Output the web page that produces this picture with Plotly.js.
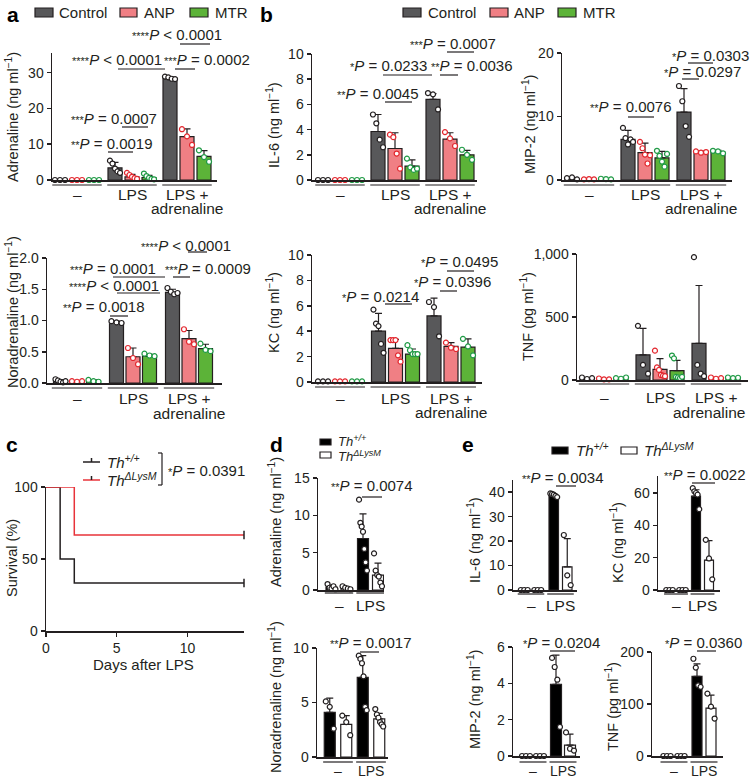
<!DOCTYPE html>
<html><head><meta charset="utf-8">
<script src="https://cdn.plot.ly/plotly-3.0.1.min.js"></script>
<style>body{margin:0;background:#fff}#chart{width:750px;height:780px}</style>
</head><body><div id="chart"></div>
<script>
// ================= DATA =================
const groups3 = ["–", "LPS", "LPS +<br>adrenaline"];
const groups2 = ["–", "LPS"];
const series3 = ["Control", "ANP", "MTR"];
const series2 = ["<i>Th</i><sup><i>+/+</i></sup>", "<i>Th</i><sup><i>ΔLysM</i></sup>"];

// a (top) Adrenaline, ng/ml
const a_adr_ctrl_mean = [0, 3.4, 28.5];
const a_adr_ctrl_sd   = [null, 1.5, 0.4];
const a_adr_ctrl_pts  = [[0, 0, 0], [5.4, 4.6, 3.2, 2.4, 2.0], [28.9, 28.7, 28.3, 28.2]];
const a_adr_anp_mean  = [0, 0.9, 12.1];
const a_adr_anp_sd    = [null, 0.7, 2.2];
const a_adr_anp_pts   = [[0, 0, 0], [2.0, 1.4, 0.9, 0.5, 0.3], [14.2, 12.2, 9.8]];
const a_adr_mtr_mean  = [0, 0.7, 6.6];
const a_adr_mtr_sd    = [null, 0.6, 1.6];
const a_adr_mtr_pts   = [[0, 0, 0], [1.8, 1.1, 0.6, 0.3, 0.2], [8.3, 6.4, 5.1]];
const a_adr_p = ["****P < 0.0001", "****P < 0.0001", "***P = 0.0002", "***P = 0.0007", "**P = 0.0019"];

// a (bottom) Noradrenaline, ng/ml
const a_nor_ctrl_mean = [0.03, 0.97, 1.45];
const a_nor_ctrl_sd   = [0.02, 0.02, 0.05];
const a_nor_ctrl_pts  = [[0.06, 0.04, 0.02, 0.01, 0.03], [0.99, 0.97, 0.96], [1.52, 1.46, 1.42, 1.44]];
const a_nor_anp_mean  = [0.02, 0.42, 0.71];
const a_nor_anp_sd    = [0.01, 0.14, 0.13];
const a_nor_anp_pts   = [[0.03, 0.02, 0.03], [0.56, 0.40, 0.30], [0.86, 0.66, 0.62]];
const a_nor_mtr_mean  = [0.03, 0.43, 0.55];
const a_nor_mtr_sd    = [0.02, 0.03, 0.07];
const a_nor_mtr_pts   = [[0.05, 0.03, 0.02], [0.47, 0.44, 0.43], [0.63, 0.53, 0.51]];
const a_nor_p = ["****P < 0.0001", "***P = 0.0001", "***P = 0.0009", "****P < 0.0001", "**P = 0.0018"];

// b IL-6, ng/ml
const b_il6_ctrl_mean = [0, 3.85, 6.4];
const b_il6_ctrl_sd   = [null, 1.35, 0.45];
const b_il6_ctrl_pts  = [[0, 0, 0], [5.2, 4.5, 3.2, 2.6], [6.9, 6.8, 5.6]];
const b_il6_anp_mean  = [0, 2.5, 3.25];
const b_il6_anp_sd    = [null, 1.25, 0.5];
const b_il6_anp_pts   = [[0, 0, 0], [3.6, 3.4, 2.1, 0.9], [3.8, 3.3, 2.7]];
const b_il6_mtr_mean  = [0, 1.1, 2.0];
const b_il6_mtr_sd    = [null, 0.5, 0.35];
const b_il6_mtr_pts   = [[0, 0, 0], [1.7, 1.0, 0.8, 0.9], [2.4, 2.0, 1.6]];
const b_il6_p = ["***P = 0.0007", "*P = 0.0233", "**P = 0.0036", "**P = 0.0045"];

// b MIP-2, ng/ml
const b_mip_ctrl_mean = [0.15, 6.4, 10.7];
const b_mip_ctrl_sd   = [0.1, 1.4, 3.7];
const b_mip_ctrl_pts  = [[0.3, 0.4, 0.1], [8.2, 6.6, 5.6, 6.4, 6.0], [14.8, 12.4, 8.5, 6.8]];
const b_mip_anp_mean  = [0.1, 4.3, 4.4];
const b_mip_anp_sd    = [0.05, 1.5, 0.15];
const b_mip_anp_pts   = [[0.1, 0.15, 0.1], [6.0, 5.0, 4.0, 2.6, 3.9], [4.5, 4.3, 4.4]];
const b_mip_mtr_mean  = [0.1, 3.5, 4.4];
const b_mip_mtr_sd    = [0.05, 1.0, 0.25];
const b_mip_mtr_pts   = [[0.2, 0.15, 0.1], [4.6, 3.8, 2.9, 2.1, 4.1], [4.6, 4.5, 4.2]];
const b_mip_p = ["*P = 0.0303", "*P = 0.0297", "**P = 0.0076"];

// b KC, ng/ml
const b_kc_ctrl_mean = [0.05, 4.0, 5.2];
const b_kc_ctrl_sd   = [null, 1.4, 1.4];
const b_kc_ctrl_pts  = [[0.05, 0.05, 0.05], [5.7, 4.6, 4.4, 3.0, 2.3], [6.3, 5.9, 3.6]];
const b_kc_anp_mean  = [0.05, 2.65, 2.8];
const b_kc_anp_sd    = [null, 0.7, 0.3];
const b_kc_anp_pts   = [[0.05, 0.05, 0.05], [3.3, 3.3, 3.3, 2.1, 1.6], [3.1, 2.7, 2.6]];
const b_kc_mtr_mean  = [0.05, 2.2, 2.75];
const b_kc_mtr_sd    = [null, 0.4, 0.65];
const b_kc_mtr_pts   = [[0.05, 0.05, 0.05], [2.9, 2.5, 2.2, 2.2, 2.2], [3.4, 2.8, 2.1]];
const b_kc_p = ["*P = 0.0495", "*P = 0.0396", "*P = 0.0214"];

// b TNF, pg/ml
const b_tnf_ctrl_mean = [15, 200, 290];
const b_tnf_ctrl_sd   = [null, 210, 460];
const b_tnf_ctrl_pts  = [[20, 8, 15], [430, 120, 50], [975, 120, 50, 30]];
const b_tnf_anp_mean  = [8, 85, 15];
const b_tnf_anp_sd    = [null, 85, null];
const b_tnf_anp_pts   = [[12, 5, 5], [233, 100, 80, 40, 35, 30], [20, 10, 15]];
const b_tnf_mtr_mean  = [12, 75, 15];
const b_tnf_mtr_sd    = [null, 80, null];
const b_tnf_mtr_pts   = [[15, 10, 20], [194, 172, 25, 20, 15, 25], [20, 15, 18]];

// c survival
const c_wt_days  = [0, 1, 2, 14];
const c_wt_surv  = [100, 50, 33.3, 33.3];
const c_ko_days  = [0, 2, 14];
const c_ko_surv  = [100, 66.7, 66.7];
const c_p = "*P = 0.0391";

// d Adrenaline / Noradrenaline
const d_adr_wt_mean = [0.4, 6.9];
const d_adr_wt_sd   = [0.25, 3.3];
const d_adr_wt_pts  = [[0.8, 0.3, 0.2, 0.5, 0.1], [12.1, 9.0, 8.5, 7.8, 5.5, 3.7, 2.6]];
const d_adr_ko_mean = [0.3, 2.0];
const d_adr_ko_sd   = [0.15, 1.6];
const d_adr_ko_pts  = [[0.5, 0.3, 0.2, 0.1], [4.9, 2.6, 2.0, 1.8, 1.0, 0.5]];
const d_adr_p = "**P = 0.0074";
const d_nor_wt_mean = [4.1, 7.3];
const d_nor_wt_sd   = [1.3, 2.0];
const d_nor_wt_pts  = [[5.1, 4.6, 2.6], [9.3, 9.0, 8.6, 7.4, 4.6, 4.3]];
const d_nor_ko_mean = [3.0, 3.5];
const d_nor_ko_sd   = [0.8, 0.5];
const d_nor_ko_pts  = [[3.8, 3.2, 2.0], [4.4, 3.9, 3.6, 3.2, 3.0, 2.8]];
const d_nor_p = "**P = 0.0017";

// e cytokines
const e_il6_wt_mean = [0, 38.5];
const e_il6_wt_sd   = [null, 0.8];
const e_il6_wt_pts  = [[0, 0, 0], [39.5, 39.3, 39.0, 38.5, 38.0]];
const e_il6_ko_mean = [0, 9.5];
const e_il6_ko_sd   = [null, 11.5];
const e_il6_ko_pts  = [[0, 0, 0], [22.5, 6.0, 2.0]];
const e_il6_p = "**P = 0.0034";
const e_kc_wt_mean = [0, 58];
const e_kc_wt_sd   = [null, 4];
const e_kc_wt_pts  = [[0, 0, 0], [63, 61, 60, 59, 50]];
const e_kc_ko_mean = [0, 18.5];
const e_kc_ko_sd   = [null, 12];
const e_kc_ko_pts  = [[0, 0, 0], [31, 19.5, 6.6]];
const e_kc_p = "**P = 0.0022";
const e_mip_wt_mean = [0, 3.95];
const e_mip_wt_sd   = [null, 1.6];
const e_mip_wt_pts  = [[0, 0, 0], [5.4, 4.9, 4.2, 1.6]];
const e_mip_ko_mean = [0, 0.6];
const e_mip_ko_sd   = [null, 0.6];
const e_mip_ko_pts  = [[0, 0, 0], [1.3, 0.4, 0.3]];
const e_mip_p = "*P = 0.0204";
const e_tnf_wt_mean = [0, 153];
const e_tnf_wt_sd   = [null, 24];
const e_tnf_wt_pts  = [[0, 0, 0], [187, 170, 136, 133]];
const e_tnf_ko_mean = [0, 92];
const e_tnf_ko_sd   = [null, 25];
const e_tnf_ko_pts  = [[0, 0, 0], [120, 95, 72]];
const e_tnf_p = "*P = 0.0360";

// ================= DRAWING =================
const W = 750, H = 780;
const FX = x => x / W, FY = y => 1 - y / H;
const FONT = "Liberation Sans, Arial, Helvetica, sans-serif";
const INK = "#231f20";
const RED = "#e8333a";
const TICK_SZ = 14, ANN_SZ = 15, TITLE_SZ = 14.5;
const traces = [], shapes = [], annotations = [];
const layout = {
  width: W, height: H, margin: {l: 0, r: 0, t: 0, b: 0},
  paper_bgcolor: "#fff", plot_bgcolor: "rgba(0,0,0,0)",
  showlegend: false, barmode: "overlay",
  font: {family: FONT, color: INK, size: TICK_SZ},
  shapes, annotations
};

const STYLE3 = [
  {fill: "#58585a", dot: INK},
  {fill: "#f07f84", dot: "#e3262d"},
  {fill: "#5cb338", dot: "#1f9a45"}
];
const STYLE2 = [
  {fill: "#000000", dot: INK},
  {fill: "#ffffff", dot: INK}
];

function txt(text, x, y, opts) {
  annotations.push(Object.assign({
    text, x: FX(x), y: FY(y), xref: "paper", yref: "paper",
    showarrow: false, xanchor: "center", yanchor: "middle",
    font: {family: FONT, size: ANN_SZ, color: INK}
  }, opts || {}));
}
function line(x0, y0, x1, y1, color, w) {
  shapes.push({type: "line", xref: "paper", yref: "paper",
    x0: FX(x0), y0: FY(y0), x1: FX(x1), y1: FY(y1),
    line: {color: color || INK, width: w || 1.2}});
}
function pHTML(s) {
  const m = s.match(/^(\*+)P (.*)$/);
  return `<span style="font-size:11px">${m[1]}</span><i>P</i> ${m[2]}`;
}
function addSigs(texts, pos) {
  texts.forEach((t, i) => {
    const [cx, cy, l0, l1, ly] = pos[i];
    txt(pHTML(t), cx, cy);
    line(l0, ly, l1, ly);
  });
}
function yTitle(text, x, y) {
  txt(text, x, y, {textangle: -90, font: {family: FONT, size: TITLE_SZ, color: INK}});
}

function addBarPanel(n, g, groups, ser, styles) {
  const xa = "x" + n, ya = "y" + n;
  const toU = p => p / g.s;
  layout["xaxis" + n] = {
    domain: [FX(g.x0), FX(g.x1)], range: [toU(g.x0 - g.c0), toU(g.x1 - g.c0)],
    anchor: ya, showline: true, linecolor: INK, linewidth: 1.5,
    showticklabels: false, ticks: "", showgrid: false, zeroline: false, fixedrange: true
  };
  layout["yaxis" + n] = {
    domain: [FY(g.yZero), FY(g.yTop)], range: [0, g.yMax],
    anchor: xa, showline: true, linecolor: INK, linewidth: 1.5,
    ticks: "outside", ticklen: 4, tickwidth: 1.5, tickcolor: INK,
    tickvals: g.tickvals, ticktext: g.ticktext || g.tickvals.map(String),
    tickfont: {family: FONT, size: TICK_SZ, color: INK},
    showgrid: false, zeroline: false, fixedrange: true
  };
  const bw = toU(g.bw), step = toU(g.off);
  ser.forEach((s, k) => {
    const off = (k - (ser.length - 1) / 2) * step;
    const st = styles[k];
    traces.push({
      type: "bar", xaxis: xa, yaxis: ya,
      x: s.mean.map((_, i) => i + off), y: s.mean, width: bw,
      marker: {color: st.fill, line: {color: INK, width: 1.2}},
      error_y: {type: "data", symmetric: false, array: s.sd,
        arrayminus: s.sd.map(() => 0), color: INK, thickness: 1.2, width: 3.5},
      hoverinfo: "skip"
    });
    const dx = [], dy = [];
    s.pts.forEach((arr, i) => {
      const m = arr.length;
      arr.forEach((v, j) => {
        dx.push(i + off + (m > 1 ? (j / (m - 1) - 0.5) * bw * 0.72 : 0));
        dy.push(v);
      });
    });
    traces.push({
      type: "scatter", mode: "markers", xaxis: xa, yaxis: ya, x: dx, y: dy,
      marker: {size: 5, color: "#fff", line: {color: st.dot, width: 1.2}},
      cliponaxis: false, hoverinfo: "skip"
    });
  });
  groups.forEach((gl, i) => {
    shapes.push({type: "line", xref: xa, yref: "paper",
      x0: i - 0.45, x1: i + 0.45, y0: FY(g.ulY), y1: FY(g.ulY),
      line: {color: INK, width: 1.2}});
    const parts = gl.split("<br>");
    parts.forEach((p, j) => {
      const ann = {text: p, xref: xa, yref: "paper", x: i,
        y: FY(j === 0 ? g.labY : g.labY2), showarrow: false,
        xanchor: "center", yanchor: "middle",
        font: {family: FONT, size: g.labSz || 15.5, color: INK}};
      if (j > 0 && g.lab2Right) {
        ann.xref = "paper"; ann.x = FX(g.lab2Right); ann.xanchor = "right";
      }
      annotations.push(ann);
    });
  });
}

const S = (mean, sd, pts) => ({mean, sd, pts});

// ---- a ----
addBarPanel(1, {x0: 52, x1: 217, c0: 77, s: 55, off: 17, bw: 14, yZero: 180, yTop: 53, yMax: 35.5,
  tickvals: [0, 10, 20, 30], labY: 194, labY2: 209, ulY: 185}, groups3,
  [S(a_adr_ctrl_mean, a_adr_ctrl_sd, a_adr_ctrl_pts), S(a_adr_anp_mean, a_adr_anp_sd, a_adr_anp_pts),
   S(a_adr_mtr_mean, a_adr_mtr_sd, a_adr_mtr_pts)], STYLE3);
addSigs(a_adr_p, [[177, 35, 180, 210, 44], [117, 60, 118, 165, 69], [207, 60, 175, 195, 69],
  [114, 118, 122, 148, 127], [112, 143, 108, 133, 152]]);
yTitle("Adrenaline (ng ml<sup>−1</sup>)", 12, 117);

addBarPanel(2, {x0: 47, x1: 222, c0: 77, s: 56, off: 16.5, bw: 14, yZero: 383, yTop: 258, yMax: 2,
  tickvals: [0, 0.5, 1, 1.5, 2], ticktext: ["0.0", "0.5", "1.0", "1.5", "2.0"],
  labY: 398, labY2: 413, ulY: 388}, groups3,
  [S(a_nor_ctrl_mean, a_nor_ctrl_sd, a_nor_ctrl_pts), S(a_nor_anp_mean, a_nor_anp_sd, a_nor_anp_pts),
   S(a_nor_mtr_mean, a_nor_mtr_sd, a_nor_mtr_pts)], STYLE3);
addSigs(a_nor_p, [[186, 245, 188, 207, 252], [113, 268, 113, 165, 277], [208, 268, 173, 190, 277],
  [114, 285, 117, 160, 293], [104, 307, 110, 128, 316]]);
yTitle("Noradrenaline (ng ml<sup>−1</sup>)", 12, 312);

// ---- b ----
addBarPanel(3, {x0: 312, x1: 477, c0: 340, s: 55, off: 17, bw: 14, yZero: 180, yTop: 54, yMax: 10,
  tickvals: [0, 2, 4, 6, 8, 10], labY: 194, labY2: 209, ulY: 185}, groups3,
  [S(b_il6_ctrl_mean, b_il6_ctrl_sd, b_il6_ctrl_pts), S(b_il6_anp_mean, b_il6_anp_sd, b_il6_anp_pts),
   S(b_il6_mtr_mean, b_il6_mtr_sd, b_il6_mtr_pts)], STYLE3);
addSigs(b_il6_p, [[453, 43, 447, 474, 52], [388, 65, 383, 432, 75], [472, 65, 440, 458, 75],
  [378, 93, 385, 412, 102]]);
yTitle("IL-6 (ng ml<sup>−1</sup>)", 273, 125);

addBarPanel(4, {x0: 562, x1: 732, c0: 589, s: 56, off: 17, bw: 14, yZero: 180, yTop: 53, yMax: 20,
  tickvals: [0, 10, 20], labY: 194, labY2: 209, ulY: 185}, groups3,
  [S(b_mip_ctrl_mean, b_mip_ctrl_sd, b_mip_ctrl_pts), S(b_mip_anp_mean, b_mip_anp_sd, b_mip_anp_pts),
   S(b_mip_mtr_mean, b_mip_mtr_sd, b_mip_mtr_pts)], STYLE3);
addSigs(b_mip_p, [[710, 56, 688, 713, 63], [702, 71, 682, 699, 79], [631, 107, 628, 654, 117]]);
yTitle("MIP-2 (ng ml<sup>−1</sup>)", 529, 125);

addBarPanel(5, {x0: 312, x1: 482, c0: 340, s: 55.5, off: 17, bw: 14, yZero: 382, yTop: 255, yMax: 10,
  tickvals: [0, 2, 4, 6, 8, 10], labY: 398, labY2: 412, ulY: 387}, groups3,
  [S(b_kc_ctrl_mean, b_kc_ctrl_sd, b_kc_ctrl_pts), S(b_kc_anp_mean, b_kc_anp_sd, b_kc_anp_pts),
   S(b_kc_mtr_mean, b_kc_mtr_sd, b_kc_mtr_pts)], STYLE3);
addSigs(b_kc_p, [[459, 262, 447, 474, 271], [452, 281, 440, 457, 291], [380, 296, 385, 412, 304]]);
yTitle("KC (ng ml<sup>−1</sup>)", 273, 313);

addBarPanel(6, {x0: 577, x1: 748, c0: 604, s: 56, off: 17, bw: 14, yZero: 380, yTop: 254, yMax: 1000,
  tickvals: [0, 500, 1000], ticktext: ["0", "500", "1,000"], labY: 397, labY2: 412, ulY: 384,
  lab2Right: 747}, groups3,
  [S(b_tnf_ctrl_mean, b_tnf_ctrl_sd, b_tnf_ctrl_pts), S(b_tnf_anp_mean, b_tnf_anp_sd, b_tnf_anp_pts),
   S(b_tnf_mtr_mean, b_tnf_mtr_sd, b_tnf_mtr_pts)], STYLE3);
yTitle("TNF (pg ml<sup>−1</sup>)", 527, 317);

// legends a / b
function legBox(x0, x1, y0, y1, fill) {
  shapes.push({type: "rect", xref: "paper", yref: "paper", x0: FX(x0), x1: FX(x1),
    y0: FY(y1), y1: FY(y0), fillcolor: fill, line: {color: INK, width: 1.2}});
}
[[35, 53, 57], [120, 137, 142], [190, 208, 213]].forEach((p, k) => {
  legBox(p[0], p[1], 8, 17, STYLE3[k].fill);
  txt(series3[k], p[2], 12.5, {xanchor: "left"});
});
[[403, 421, 426], [490, 508, 512], [558, 576, 581]].forEach((p, k) => {
  legBox(p[0], p[1], 8, 17, STYLE3[k].fill);
  txt(series3[k], p[2], 12.5, {xanchor: "left"});
});
const LBL = {family: "Liberation Sans, Arial, sans-serif", size: 21, color: "#000"};
txt("<b>a</b>", 13, 14, {font: LBL});
txt("<b>b</b>", 266, 14, {font: LBL});
txt("<b>c</b>", 12, 444, {font: LBL});
txt("<b>d</b>", 276, 444, {font: LBL});
txt("<b>e</b>", 468, 444, {font: LBL});

// ---- c ----
layout.xaxis7 = {domain: [FX(46), FX(244)], range: [0, 14], anchor: "y7",
  showline: true, linecolor: INK, linewidth: 1.5, ticks: "outside", ticklen: 4, tickwidth: 1.5,
  tickcolor: INK, tickvals: [0, 5, 10], tickfont: {family: FONT, size: TICK_SZ, color: INK},
  showgrid: false, zeroline: false, fixedrange: true};
layout.yaxis7 = {domain: [FY(631), FY(487)], range: [0, 100], anchor: "x7",
  showline: true, linecolor: INK, linewidth: 1.5, ticks: "outside", ticklen: 4, tickwidth: 1.5,
  tickcolor: INK, tickvals: [0, 50, 100], tickfont: {family: FONT, size: TICK_SZ, color: INK},
  showgrid: false, zeroline: false, fixedrange: true};
traces.push({type: "scatter", mode: "lines", xaxis: "x7", yaxis: "y7", x: c_wt_days, y: c_wt_surv,
  line: {shape: "hv", color: INK, width: 1.5}, cliponaxis: false, hoverinfo: "skip"});
traces.push({type: "scatter", mode: "lines", xaxis: "x7", yaxis: "y7", x: c_ko_days, y: c_ko_surv,
  line: {shape: "hv", color: RED, width: 1.5}, cliponaxis: false, hoverinfo: "skip"});
traces.push({type: "scatter", mode: "markers", xaxis: "x7", yaxis: "y7",
  x: [c_wt_days[c_wt_days.length - 1]], y: [c_wt_surv[c_wt_surv.length - 1]],
  marker: {symbol: "line-ns-open", size: 6, color: INK, line: {color: INK, width: 1.5}}, cliponaxis: false, hoverinfo: "skip"});
traces.push({type: "scatter", mode: "markers", xaxis: "x7", yaxis: "y7",
  x: [c_ko_days[c_ko_days.length - 1]], y: [c_ko_surv[c_ko_surv.length - 1]],
  marker: {symbol: "line-ns-open", size: 6, color: INK, line: {color: INK, width: 1.5}}, cliponaxis: false, hoverinfo: "skip"});
txt("Days after LPS", 143, 664);
yTitle("Survival (%)", 12, 558);
// c legend
line(83, 462, 100, 462, INK, 1.5); line(91.5, 458, 91.5, 462, INK, 1.5);
line(83, 480, 100, 480, RED, 1.5); line(91.5, 476, 91.5, 480, INK, 1.5);
txt(series2[0], 105, 461, {xanchor: "left"});
txt(series2[1], 105, 479, {xanchor: "left"});
line(162, 453, 162, 485, INK, 1.2); line(158, 453, 162, 453, INK, 1.2); line(158, 485, 162, 485, INK, 1.2);
txt(pHTML(c_p), 166, 470, {xanchor: "left"});

// ---- d ----
addBarPanel(8, {x0: 318, x1: 384, c0: 339, s: 31.5, off: 15, bw: 11, yZero: 590, yTop: 478, yMax: 15,
  tickvals: [0, 5, 10, 15], labY: 605, ulY: 593}, groups2,
  [S(d_adr_wt_mean, d_adr_wt_sd, d_adr_wt_pts), S(d_adr_ko_mean, d_adr_ko_sd, d_adr_ko_pts)], STYLE2);
addSigs([d_adr_p], [[372, 485, 362, 382, 497]]);
yTitle("Adrenaline (ng ml<sup>−1</sup>)", 275, 522);

addBarPanel(9, {x0: 317, x1: 388, c0: 338, s: 33, off: 16.5, bw: 11, yZero: 757, yTop: 648, yMax: 10,
  tickvals: [0, 5, 10], labY: 771, ulY: 762, labSz: 14}, groups2,
  [S(d_nor_wt_mean, d_nor_wt_sd, d_nor_wt_pts), S(d_nor_ko_mean, d_nor_ko_sd, d_nor_ko_pts)], STYLE2);
addSigs([d_nor_p], [[371, 642, 360, 379, 652]]);
yTitle("Noradrenaline (ng ml<sup>−1</sup>)", 275, 697);

// d legend
const LEGF = {family: FONT, size: 13, color: INK};
legBox(320, 331, 439, 445, "#000"); txt(series2[0], 336, 441, {xanchor: "left", font: LEGF});
legBox(320, 331, 452, 458, "#fff"); txt(series2[1], 336, 456, {xanchor: "left", font: LEGF});

// ---- e ----
addBarPanel(10, {x0: 513, x1: 577, c0: 531, s: 29.5, off: 13.5, bw: 9.5, yZero: 590, yTop: 480, yMax: 45,
  tickvals: [0, 10, 20, 30, 40], labY: 605, ulY: 594}, groups2,
  [S(e_il6_wt_mean, e_il6_wt_sd, e_il6_wt_pts), S(e_il6_ko_mean, e_il6_ko_sd, e_il6_ko_pts)], STYLE2);
addSigs([e_il6_p], [[563, 477, 556, 576, 486]]);
yTitle("IL-6 (ng ml<sup>−1</sup>)", 474, 540);

addBarPanel(11, {x0: 658, x1: 720, c0: 676, s: 26.5, off: 13, bw: 9, yZero: 590, yTop: 476, yMax: 70.5,
  tickvals: [0, 20, 40, 60], labY: 605, ulY: 594}, groups2,
  [S(e_kc_wt_mean, e_kc_wt_sd, e_kc_wt_pts), S(e_kc_ko_mean, e_kc_ko_sd, e_kc_ko_pts)], STYLE2);
addSigs([e_kc_p], [[705, 475, 692, 715, 483]]);
yTitle("KC (ng ml<sup>−1</sup>)", 617, 543);

addBarPanel(12, {x0: 513, x1: 580, c0: 533, s: 30, off: 14, bw: 11, yZero: 756, yTop: 647, yMax: 6,
  tickvals: [0, 2, 4, 6], labY: 771, ulY: 762, labSz: 14}, groups2,
  [S(e_mip_wt_mean, e_mip_wt_sd, e_mip_wt_pts), S(e_mip_ko_mean, e_mip_ko_sd, e_mip_ko_pts)], STYLE2);
addSigs([e_mip_p], [[561, 642, 550, 575, 651]]);
yTitle("MIP-2 (ng ml<sup>−1</sup>)", 474, 700);

addBarPanel(13, {x0: 652, x1: 723, c0: 674, s: 30, off: 14, bw: 10, yZero: 756, yTop: 652, yMax: 200,
  tickvals: [0, 100, 200], labY: 771, ulY: 762, labSz: 14}, groups2,
  [S(e_tnf_wt_mean, e_tnf_wt_sd, e_tnf_wt_pts), S(e_tnf_ko_mean, e_tnf_ko_sd, e_tnf_ko_pts)], STYLE2);
addSigs([e_tnf_p], [[703, 642, 697, 716, 651]]);
yTitle("TNF (pg ml<sup>−1</sup>)", 612, 707);

// e legend
legBox(552, 568, 447, 454, "#000"); txt(series2[0], 574, 450, {xanchor: "left"});
legBox(621, 637, 447, 454, "#fff"); txt(series2[1], 642, 450, {xanchor: "left"});

Plotly.newPlot("chart", traces, layout, {staticPlot: true, displayModeBar: false});
</script>
</body></html>
